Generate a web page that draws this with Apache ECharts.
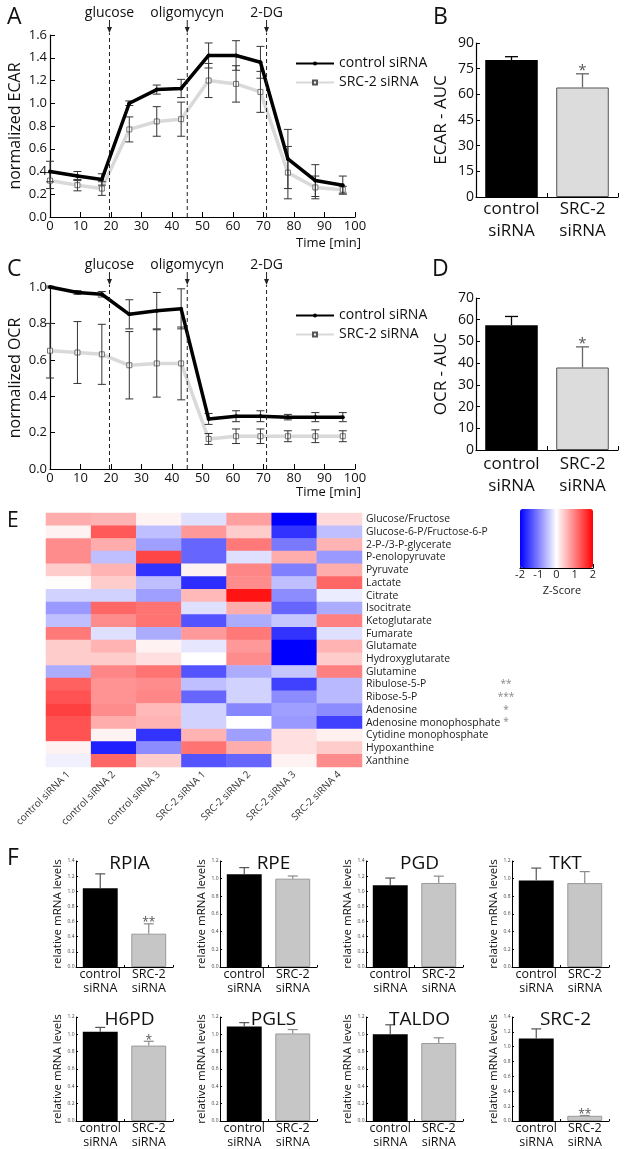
<!DOCTYPE html>
<html><head><meta charset="utf-8">
<script src="https://cdn.jsdelivr.net/npm/echarts@6/dist/echarts.min.js"></script>
<style>html,body{margin:0;padding:0;background:#fff}#c{width:624px;height:1149px}</style>
</head><body><div id="c"></div>
<script>
// ---------------- DATA ----------------
const timeMin = [0, 9, 17, 26, 35, 43, 52, 61, 69, 78, 87, 96];
const ecarControl    = [0.40, 0.36, 0.33, 1.00, 1.12, 1.13, 1.42, 1.42, 1.36, 0.51, 0.32, 0.28];
const ecarControlErr = [0.09, 0.04, 0.05, 0.02, 0.04, 0.08, 0.11, 0.13, 0.14, 0.26, 0.14, 0.08];
const ecarSrc        = [0.32, 0.28, 0.25, 0.77, 0.84, 0.86, 1.20, 1.17, 1.10, 0.39, 0.26, 0.24];
const ecarSrcErr     = [0.07, 0.05, 0.06, 0.11, 0.13, 0.15, 0.15, 0.16, 0.18, 0.23, 0.10, 0.03];
const ocrControl     = [1.00, 0.97, 0.96, 0.85, 0.87, 0.88, 0.275, 0.29, 0.29, 0.285, 0.285, 0.285];
const ocrControlErr  = [0.005, 0.01, 0.015, 0.08, 0.10, 0.11, 0.03, 0.03, 0.03, 0.015, 0.025, 0.025];
const ocrSrc         = [0.65, 0.64, 0.63, 0.57, 0.58, 0.58, 0.165, 0.18, 0.18, 0.18, 0.18, 0.18];
const ocrSrcErr      = [0.15, 0.17, 0.165, 0.185, 0.185, 0.20, 0.03, 0.04, 0.04, 0.03, 0.035, 0.03];
const eventNames = ['glucose', 'oligomycyn', '2-DG'];
const eventTimes = [19.5, 45, 71];
const seriesNames = ['control siRNA', 'SRC-2 siRNA'];

const groupLabels = ['control\nsiRNA', 'SRC-2\nsiRNA'];
const ecarAuc = [80, 64];
const ecarAucErr = [2, 8];
const ecarAucStars = ['', '*'];
const ocrAuc = [57.5, 38];
const ocrAucErr = [4, 9.5];
const ocrAucStars = ['', '*'];

const samples = ['control siRNA 1', 'control siRNA 2', 'control siRNA 3', 'SRC-2 siRNA 1', 'SRC-2 siRNA 2', 'SRC-2 siRNA 3', 'SRC-2 siRNA 4'];
const metabolites = ['Glucose/Fructose', 'Glucose-6-P/Fructose-6-P', '2-P-/3-P-glycerate', 'P-enolopyruvate', 'Pyruvate', 'Lactate', 'Citrate', 'Isocitrate', 'Ketoglutarate', 'Fumarate', 'Glutamate', 'Hydroxyglutarate', 'Glutamine', 'Ribulose-5-P', 'Ribose-5-P', 'Adenosine', 'Adenosine monophosphate', 'Cytidine monophosphate', 'Hypoxanthine', 'Xanthine'];
const metaboliteStars = ['', '', '', '', '', '', '', '', '', '', '', '', '', '**', '***', '*', '*', '', '', ''];
const zScores = [
  [0.65, 0.6, 0.1, -0.25, 0.75, -2.0, 0.3],
  [0.1, 1.3, -0.5, 0.8, 0.4, -1.6, -0.5],
  [0.9, 0.65, -0.75, -1.2, 1.05, -1.05, 0.6],
  [0.9, -0.5, 1.45, -1.2, -0.25, 0.65, -0.8],
  [0.4, 0.6, -1.6, 0.1, 0.95, -1.0, 0.65],
  [0.02, 0.4, -0.5, -1.65, 0.9, -0.5, 1.2],
  [-0.35, -0.35, -0.75, 0.55, 1.85, -0.9, -0.15],
  [-0.8, 1.2, 1.1, -0.25, 0.65, -1.2, -0.65],
  [-0.5, 0.9, 1.1, -1.35, -0.65, -0.45, 1.0],
  [1.05, -0.25, -0.65, 0.8, 1.05, -1.6, -0.25],
  [0.4, 0.6, 0.1, -0.2, 0.8, -2.0, 0.6],
  [0.4, 0.4, 0.25, 0.0, 0.9, -2.0, 0.4],
  [-0.65, 0.95, 1.1, -1.35, -0.65, -0.45, 1.0],
  [1.25, 0.85, 0.9, -0.5, -0.35, -1.5, -0.55],
  [1.35, 0.85, 0.95, -1.2, -0.35, -0.9, -0.55],
  [1.5, 0.9, 0.55, -0.35, -0.95, -0.75, -0.9],
  [1.35, 0.65, 0.6, -0.35, 0.0, -0.8, -1.5],
  [1.35, 0.1, -1.6, 0.6, -0.75, 0.25, 0.12],
  [0.1, -1.75, -0.9, 1.1, 0.65, 0.25, 0.4],
  [-0.12, 1.2, 0.4, -1.35, -1.2, 0.1, 0.9]
];
const zTicks = [-2, -1, 0, 1, 2];

const genes = ['RPIA', 'RPE', 'PGD', 'TKT', 'H6PD', 'PGLS', 'TALDO', 'SRC-2'];
const geneControl    = [1.04, 1.05, 1.08, 0.98, 1.03, 1.09, 1.00, 1.11];
const geneControlErr = [0.19, 0.075, 0.095, 0.14, 0.05, 0.045, 0.11, 0.13];
const geneSrc        = [0.44, 1.00, 1.11, 0.95, 0.87, 1.01, 0.90, 0.07];
const geneSrcErr     = [0.13, 0.03, 0.09, 0.13, 0.05, 0.045, 0.06, 0.004];
const geneAxisMax    = [1.4, 1.2, 1.4, 1.2, 1.2, 1.2, 1.2, 1.4];
const geneStars      = ['**', '', '', '', '*', '', '', '**'];

// ---------------- LAYOUT / HELPERS ----------------
const FONT = '"Open Sans", "Noto Sans", sans-serif';
const grids = [], xAxes = [], yAxes = [], series = [], titles = [];
const blackLine = (w) => ({ show: true, lineStyle: { color: '#000', width: w || 1 } });
const inTick = (len) => ({ show: true, inside: true, length: len, lineStyle: { color: '#000' } });

function errorBarSeries(xi, yi, data, o) {
  return {
    type: 'custom', xAxisIndex: xi, yAxisIndex: yi, data: data, z: o.z || 3, silent: true, clip: false,
    renderItem: function (params, api) {
      const x = api.value(0), v = api.value(1), e = api.value(2);
      const top = api.coord([x, v + e]);
      const bot = api.coord([x, o.upOnly ? v : v - e]);
      const c = o.colors ? o.colors[params.dataIndex] : o.color;
      const st = { stroke: c, lineWidth: o.width || 1 };
      const h = o.cap;
      const ch = [
        { type: 'line', shape: { x1: top[0], y1: top[1], x2: bot[0], y2: bot[1] }, style: st },
        { type: 'line', shape: { x1: top[0] - h, y1: top[1], x2: top[0] + h, y2: top[1] }, style: st }
      ];
      if (!o.upOnly) ch.push({ type: 'line', shape: { x1: bot[0] - h, y1: bot[1], x2: bot[0] + h, y2: bot[1] }, style: st });
      return { type: 'group', children: ch };
    }
  };
}
function starSeries(xi, yi, data, texts, o) {
  return {
    type: 'custom', xAxisIndex: xi, yAxisIndex: yi, data: data, z: 6, silent: true, clip: false,
    renderItem: function (params, api) {
      const p = api.coord([api.value(0), api.value(1)]);
      return { type: 'text', style: { x: p[0], y: p[1] + o.dy, text: texts[params.dataIndex], fill: o.color, font: o.size + 'px ' + FONT, align: 'center', verticalAlign: 'bottom' } };
    }
  };
}

// -------- Panels A & C (time courses) --------
function timePanel(g, top, yMax, yName, ctrl, ctrlErr, src, srcErr) {
  grids.push({ left: 50, top: top, width: 305, height: 182 });
  xAxes.push({ gridIndex: g, type: 'value', min: 0, max: 100, interval: 10, axisLine: blackLine(1.2), axisTick: inTick(5),
    axisLabel: { color: '#111', fontSize: 13, margin: 3, fontFamily: FONT }, splitLine: { show: false } });
  yAxes.push({ gridIndex: g, type: 'value', min: 0, max: yMax, interval: 0.2, axisLine: blackLine(1.2), axisTick: inTick(5),
    axisLabel: { color: '#111', fontSize: 13, margin: 3, fontFamily: FONT, formatter: v => v.toFixed(1) }, splitLine: { show: false },
    name: yName, nameLocation: 'middle', nameGap: 27, nameTextStyle: { fontSize: 16, color: '#111', fontFamily: FONT } });
  series.push({ type: 'line', name: seriesNames[1], xAxisIndex: g, yAxisIndex: g, data: timeMin.map((t, i) => [t, src[i]]),
    lineStyle: { color: '#d9d9d9', width: 3.5 }, itemStyle: { color: '#fff', borderColor: '#555', borderWidth: 0.8 },
    symbol: 'rect', symbolSize: 5, showSymbol: true, z: 2, silent: true });
  series.push(errorBarSeries(g, g, timeMin.map((t, i) => [t, src[i], srcErr[i]]), { color: '#333', cap: 4, width: 1, z: 3 }));
  series.push(errorBarSeries(g, g, timeMin.map((t, i) => [t, ctrl[i], ctrlErr[i]]), { color: '#333', cap: 4, width: 1, z: 3 }));
  series.push({ type: 'line', name: seriesNames[0], xAxisIndex: g, yAxisIndex: g, data: timeMin.map((t, i) => [t, ctrl[i]]),
    lineStyle: { color: '#000', width: 3.5 }, itemStyle: { color: '#000' }, symbol: 'circle', symbolSize: 4, z: 4, silent: true });
  series.push({
    type: 'custom', xAxisIndex: g, yAxisIndex: g, silent: true, clip: false, z: 5,
    data: eventTimes.map((t, i) => [t, 0, i]),
    renderItem: function (params, api) {
      const t = api.value(0), i = api.value(2);
      const b = api.coord([t, 0]), tp = api.coord([t, yMax]);
      const x = b[0], tt = tp[1];
      return { type: 'group', children: [
        { type: 'line', shape: { x1: x, y1: b[1], x2: x, y2: tt - 2 }, style: { stroke: '#222', lineWidth: 1, lineDash: [4, 3] } },
        { type: 'line', shape: { x1: x, y1: tt - 15, x2: x, y2: tt - 5 }, style: { stroke: '#222', lineWidth: 1 } },
        { type: 'polygon', shape: { points: [[x - 2.5, tt - 8], [x + 2.5, tt - 8], [x, tt - 2]] }, style: { fill: '#222' } },
        { type: 'text', style: { x: x, y: tt - 15, text: eventNames[i], fill: '#111', font: '14px ' + FONT, align: 'center', verticalAlign: 'bottom' } }
      ] };
    }
  });
}

// -------- Panels B & D (AUC bars) --------
function aucPanel(g, top, height, max, interval, yName, vals, errs, stars, labelMargin) {
  grids.push({ left: 476, top: top, width: 142, height: height });
  xAxes.push({ gridIndex: g, type: 'category', data: groupLabels, axisLine: blackLine(1.2), axisTick: { show: true, inside: true, length: 4, lineStyle: { color: '#000' } },
    axisLabel: { color: '#111', fontSize: 17, lineHeight: 22, margin: labelMargin, fontFamily: FONT, interval: 0 } });
  yAxes.push({ gridIndex: g, type: 'value', min: 0, max: max, interval: interval, axisLine: blackLine(1.2), axisTick: inTick(4),
    axisLabel: { color: '#111', fontSize: 14, margin: 2, fontFamily: FONT }, splitLine: { show: false },
    name: yName, nameLocation: 'middle', nameGap: 26, nameTextStyle: { fontSize: 17, color: '#111', fontFamily: FONT } });
  series.push({ type: 'bar', xAxisIndex: g, yAxisIndex: g, barWidth: '74%', z: 2, silent: true,
    data: vals.map((v, i) => ({ value: v, itemStyle: i === 0 ? { color: '#000' } : { color: '#dcdcdc', borderColor: '#555', borderWidth: 1 } })) });
  series.push(errorBarSeries(g, g, vals.map((v, i) => [i, v, errs[i]]), { colors: ['#000', '#666'], cap: 6.5, upOnly: true, width: 1.3, z: 3 }));
  series.push(starSeries(g, g, vals.map((v, i) => [i, v + errs[i]]), stars, { size: 15, color: '#555', dy: 4 }));
}

timePanel(0, 35, 1.6, 'normalized ECAR', ecarControl, ecarControlErr, ecarSrc, ecarSrcErr);
aucPanel(1, 43, 154, 90, 15, 'ECAR - AUC', ecarAuc, ecarAucErr, ecarAucStars, 1);
timePanel(2, 287, 1.0, 'normalized OCR', ocrControl, ocrControlErr, ocrSrc, ocrSrcErr);
aucPanel(3, 298, 152, 70, 10, 'OCR - AUC', ocrAuc, ocrAucErr, ocrAucStars, 3);

// -------- Panel E (heatmap) --------
grids.push({ left: 46, top: 513, width: 316, height: 254 });
xAxes.push({ gridIndex: 4, type: 'category', data: samples, axisLine: { show: false }, axisTick: { show: false },
  axisLabel: { rotate: 45, fontSize: 10, color: '#333', margin: 6, interval: 0, fontFamily: FONT } });
yAxes.push({ gridIndex: 4, type: 'category', data: metabolites, inverse: true, position: 'right', axisLine: { show: false }, axisTick: { show: false },
  axisLabel: { fontSize: 10.4, color: '#222', margin: 4, interval: 0, fontFamily: FONT } });
yAxes.push({ gridIndex: 4, type: 'category', data: metabolites, inverse: true, position: 'right', offset: 144, axisLine: { show: false }, axisTick: { show: false },
  axisLabel: { fontSize: 10, color: '#888', margin: 0, interval: 0, align: 'center', fontFamily: FONT, formatter: (v, idx) => metaboliteStars[idx] } });
const heatData = [];
zScores.forEach((row, r) => row.forEach((z, c) => heatData.push([c, r, z])));
const heatIndex = series.length;
series.push({ type: 'heatmap', xAxisIndex: 4, yAxisIndex: 4, data: heatData, itemStyle: { borderWidth: 0 }, silent: true, progressive: 0 });

// colour-bar tick axis
grids.push({ left: 520, top: 567, width: 73, height: 1 });
xAxes.push({ gridIndex: 5, type: 'value', min: zTicks[0], max: zTicks[zTicks.length - 1], interval: 1, axisLine: blackLine(1.2), axisTick: { show: true, inside: true, length: 4, lineStyle: { color: '#000' } },
  axisLabel: { fontSize: 11, color: '#222', margin: 1, fontFamily: FONT }, splitLine: { show: false } });
yAxes.push({ gridIndex: 5, type: 'value', show: false, min: 0, max: 1 });

// -------- Panel F (qPCR bars) --------
const fLeft = [76, 220, 366, 512];
const fTop = [861, 1017];
genes.forEach((gname, i) => {
  const g = 6 + i, ya = 7 + i;
  const left = fLeft[i % 4], top = fTop[Math.floor(i / 4)];
  grids.push({ left: left, top: top, width: 97, height: 106 });
  xAxes.push({ gridIndex: g, type: 'category', data: groupLabels, axisLine: blackLine(1), axisTick: { show: true, inside: true, length: 2, lineStyle: { color: '#000' } },
    axisLabel: { color: '#111', fontSize: 12.5, lineHeight: 13.5, margin: 1, interval: 0, fontFamily: FONT } });
  yAxes.push({ gridIndex: g, type: 'value', min: 0, max: geneAxisMax[i], interval: 0.2, axisLine: blackLine(1), axisTick: inTick(2),
    axisLabel: { color: '#444', fontSize: 5, margin: 1.5, fontFamily: FONT, formatter: v => v.toFixed(1) }, splitLine: { show: false },
    name: 'relative mRNA levels', nameLocation: 'middle', nameGap: 9, nameTextStyle: { fontSize: 11.5, color: '#111', fontFamily: FONT } });
  series.push({ type: 'bar', xAxisIndex: g, yAxisIndex: ya, barWidth: '72%', z: 2, silent: true,
    data: [{ value: geneControl[i], itemStyle: { color: '#000' } }, { value: geneSrc[i], itemStyle: { color: '#c6c6c6', borderColor: '#9a9a9a', borderWidth: 1 } }] });
  series.push(errorBarSeries(g, ya, [[0, geneControl[i], geneControlErr[i]], [1, geneSrc[i], geneSrcErr[i]]], { colors: ['#555', '#8a8a8a'], cap: 5, upOnly: true, width: 1.2, z: 3 }));
  series.push(starSeries(g, ya, [[0, geneControl[i] + geneControlErr[i]], [1, geneSrc[i] + geneSrcErr[i]]], ['', geneStars[i]], { size: 12, color: '#555', dy: 5 }));
  titles.push({ text: gname, left: left + 48.5, top: top - 12, textAlign: 'center', textStyle: { fontSize: 19, fontWeight: 'normal', color: '#111', fontFamily: FONT } });
});

// -------- Text labels --------
const letter = (t, l, tp, s) => ({ text: t, left: l, top: tp, textStyle: { fontSize: s, fontWeight: 'normal', color: '#111', fontFamily: FONT } });
titles.push(letter('A', 2, 1, 23), letter('B', 428, 1, 23), letter('C', 2, 253, 23), letter('D', 427, 253, 23), letter('E', 2, 506, 21), letter('F', 2, 842, 23));
titles.push({ text: 'Time [min]', left: 356, top: 232, textAlign: 'right', textStyle: { fontSize: 13, fontWeight: 'normal', color: '#111', fontFamily: FONT } });
titles.push({ text: 'Time [min]', left: 356, top: 481, textAlign: 'right', textStyle: { fontSize: 13, fontWeight: 'normal', color: '#111', fontFamily: FONT } });
titles.push({ text: 'Z-Score', left: 557, top: 580, textAlign: 'center', textStyle: { fontSize: 11, fontWeight: 'normal', color: '#222', fontFamily: FONT } });

const legendBase = { orient: 'vertical', itemWidth: 38, itemHeight: 5, itemGap: 0, data: seriesNames, selectedMode: false, padding: 0,
  textStyle: { fontSize: 14, color: '#111', fontFamily: FONT, lineHeight: 19 } };

const option = {
  animation: false,
  textStyle: { fontFamily: FONT },
  title: titles,
  legend: [Object.assign({ left: 295, top: 54 }, legendBase), Object.assign({ left: 295, top: 306 }, legendBase)],
  grid: grids,
  xAxis: xAxes,
  yAxis: yAxes,
  visualMap: {
    type: 'continuous', min: -2, max: 2, seriesIndex: heatIndex, orient: 'horizontal', left: 515, top: 504,
    itemWidth: 59, itemHeight: 73, calculable: false, padding: 5,
    inRange: { color: ['#0000ff', '#ffffff', '#ff0000'] }
  },
  series: series
};

const chart = echarts.init(document.getElementById('c'), null, { renderer: 'canvas', width: 624, height: 1149 });
chart.setOption(option);
</script></body></html>
